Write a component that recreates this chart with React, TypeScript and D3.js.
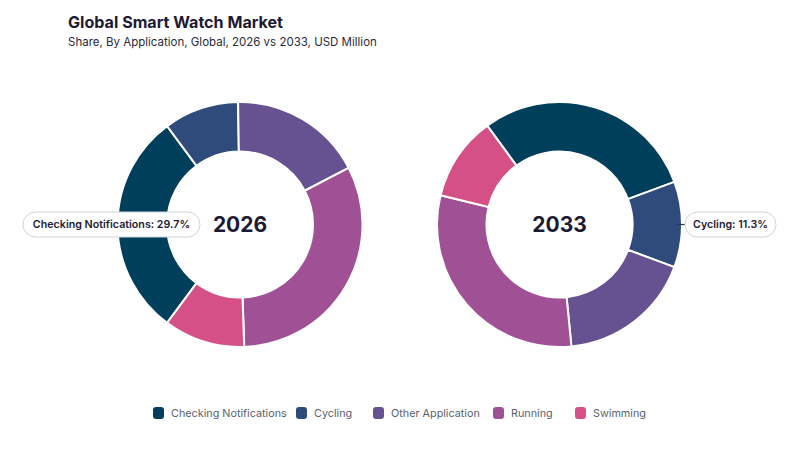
import React from "react";
import * as d3 from "d3";

// Application segments, in drawing order
const categories = [
  "Checking Notifications",
  "Cycling",
  "Other Application",
  "Running",
  "Swimming",
];
const colors = ["#003f5c", "#2f4b7c", "#665191", "#a05195", "#d45087"];

// Share (%) by year
const years = ["2026", "2033"];
const share2026 = [29.7, 9.9, 17.6, 32.1, 10.7];
const share2033 = [29.4, 11.3, 17.8, 30.4, 11.1];

// Which segment gets a callout in each donut, and the angle its middle points to
const calloutIndex = [0, 1];
const calloutAngle = [-Math.PI / 2, Math.PI / 2];

const WIDTH = 800;
const HEIGHT = 450;
const OUTER_R = 122.5;
const INNER_R = 73;
const FONT = "Inter, 'DejaVu Sans', sans-serif";

// legend item left edges
const legendX = [153, 296, 373, 493, 575];

type Props = {
  cx: number;
  cy: number;
  year: string;
  values: number[];
  callout: number;
  midAngle: number;
  side: "left" | "right";
};

const Donut = ({ cx, cy, year, values, callout, midAngle, side }: Props) => {
  const total = d3.sum(values);
  // rotate so the callout slice is centred on midAngle
  const before = d3.sum(values.slice(0, callout));
  const start =
    midAngle - ((before + values[callout] / 2) / total) * 2 * Math.PI;

  const pie = d3
    .pie<number>()
    .sort(null)
    .value((d) => d)
    .startAngle(start)
    .endAngle(start + 2 * Math.PI);
  const arc = d3
    .arc<d3.PieArcDatum<number>>()
    .innerRadius(INNER_R)
    .outerRadius(OUTER_R);
  const arcs = pie(values);

  const label = `${categories[callout]}: ${values[callout].toFixed(1)}%`;
  const pillH = 25;
  const pillW = side === "left" ? 177 : 91;
  const pillX = side === "left" ? cx - 40 - pillW : cx + OUTER_R + 3;

  return (
    <g>
      <g transform={`translate(${cx},${cy})`}>
        {arcs.map((a, i) => (
          <path
            key={i}
            d={arc(a) || ""}
            fill={colors[i]}
            stroke="#ffffff"
            strokeWidth={2}
          />
        ))}
        <text
          textAnchor="middle"
          dy="0.36em"
          fontSize={21}
          fontWeight={700}
          fill="#1d1b34"
          fontFamily={FONT}
        >
          {year}
        </text>
      </g>
      {side === "right" && (
        <line
          x1={cx + OUTER_R - 6}
          x2={pillX + 1}
          y1={cy}
          y2={cy}
          stroke="#2f3a4f"
          strokeWidth={1.2}
        />
      )}
      <rect
        x={pillX}
        y={cy - pillH / 2}
        width={pillW}
        height={pillH}
        rx={pillH / 2}
        fill="#ffffff"
        stroke="#cfd3dc"
        strokeWidth={1}
      />
      <text
        x={pillX + pillW / 2}
        y={cy}
        dy="0.36em"
        textAnchor="middle"
        fontSize={10.7}
        fontWeight={600}
        fill="#1d1b34"
        fontFamily={FONT}
      >
        {label}
      </text>
    </g>
  );
};

export default function App() {
  const series = [share2026, share2033];
  const centers = [
    { cx: 240, cy: 224.5 },
    { cx: 559.5, cy: 224.5 },
  ];

  return (
    <div style={{ position: "absolute", left: 0, top: 0 }}>
      <svg width={WIDTH} height={HEIGHT} style={{ display: "block" }}>
        <rect width={WIDTH} height={HEIGHT} fill="#ffffff" />
        <text
          x={68}
          y={28}
          fontSize={16.1}
          fontWeight={700}
          fill="#1d1b34"
          fontFamily={FONT}
        >
          Global Smart Watch Market
        </text>
        <text x={68} y={46} fontSize={11.5} fill="#2b2b3a" fontFamily={FONT}>
          Share, By Application, Global, 2026 vs 2033, USD Million
        </text>

        {years.map((y, i) => (
          <Donut
            key={y}
            cx={centers[i].cx}
            cy={centers[i].cy}
            year={y}
            values={series[i]}
            callout={calloutIndex[i]}
            midAngle={calloutAngle[i]}
            side={i === 0 ? "left" : "right"}
          />
        ))}

        <g>
          {categories.map((c, i) => (
            <g key={c} transform={`translate(${legendX[i]},413)`}>
              <rect
                x={0}
                y={-6}
                width={11}
                height={12}
                rx={3}
                fill={colors[i]}
              />
              <text
                x={18}
                y={0}
                dy="0.35em"
                fontSize={10.8}
                fill="#5a5f6e"
                fontFamily={FONT}
              >
                {c}
              </text>
            </g>
          ))}
        </g>
      </svg>
    </div>
  );
}
